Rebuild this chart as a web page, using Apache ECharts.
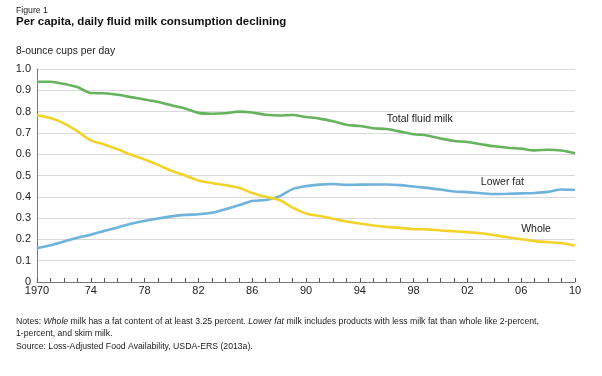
<!DOCTYPE html>
<html>
<head>
<meta charset="utf-8">
<script src="https://cdn.jsdelivr.net/npm/echarts@6/dist/echarts.min.js"></script>
<style>
  html, body { margin: 0; padding: 0; background: #fff; }
  #chart { width: 602px; height: 376px; }
</style>
</head>
<body>
<div id="chart"></div>
<script>
const years = [];
for (let y = 1970; y <= 2010; y++) years.push(String(y));

const totalFluid = [0.94, 0.94, 0.93, 0.915, 0.887, 0.886, 0.879, 0.868, 0.857, 0.845, 0.83,
  0.815, 0.794, 0.79, 0.792, 0.80, 0.796, 0.785, 0.782, 0.784, 0.775, 0.767, 0.755,
  0.738, 0.732, 0.722, 0.718, 0.706, 0.694, 0.688, 0.674, 0.662, 0.657, 0.647, 0.637,
  0.63, 0.626, 0.618, 0.621, 0.617, 0.604];

const lowerFat = [0.158, 0.172, 0.19, 0.208, 0.222, 0.24, 0.256, 0.274, 0.287, 0.298, 0.308,
  0.315, 0.318, 0.325, 0.342, 0.36, 0.38, 0.385, 0.402, 0.436, 0.45, 0.457, 0.46,
  0.456, 0.457, 0.458, 0.458, 0.455, 0.448, 0.442, 0.434, 0.425, 0.422, 0.417, 0.413,
  0.414, 0.416, 0.418, 0.423, 0.434, 0.432];

const whole = [0.783, 0.77, 0.745, 0.708, 0.665, 0.646, 0.623, 0.597, 0.575, 0.55, 0.522,
  0.5, 0.477, 0.465, 0.455, 0.442, 0.418, 0.4, 0.385, 0.35, 0.322, 0.31, 0.297,
  0.284, 0.275, 0.265, 0.259, 0.254, 0.248, 0.247, 0.242, 0.238, 0.234, 0.229, 0.22,
  0.21, 0.201, 0.192, 0.187, 0.182, 0.171];

const seriesNames = ["Total fluid milk", "Lower fat", "Whole"];
const seriesColors = ["#66b35e", "#6fb2dc", "#f3d22a"];
const labelAt = [["1996", 0.765], ["2003", 0.467], ["2006", 0.246]];

const FONT = "Liberation Sans, Arial, Helvetica, sans-serif";
const chart = echarts.init(document.getElementById("chart"), null, { renderer: "canvas" });

const makeSeries = (i, data) => ({
  name: seriesNames[i],
  type: "line",
  data: data,
  symbol: "none",
  smooth: 0.3,
  lineStyle: { color: seriesColors[i], width: 2.6 },
  markPoint: {
    symbol: "rect",
    symbolSize: 0,
    label: {
      show: true,
      position: "right",
      distance: 0,
      formatter: seriesNames[i],
      color: "#222",
      fontSize: 10.5,
      fontFamily: FONT,
    },
    data: [{ coord: labelAt[i] }],
  },
});

chart.setOption({
  animation: false,
  backgroundColor: "#fff",
  title: [
    { text: "Figure 1", left: 11, top: 1, textStyle: { fontSize: 8.7, fontWeight: "normal", color: "#222", fontFamily: FONT } },
    { text: "Per capita, daily fluid milk consumption declining", left: 11, top: 11, textStyle: { fontSize: 11.5, fontWeight: "bold", color: "#111", fontFamily: FONT } },
    { text: "8-ounce cups per day", left: 11, top: 41, textStyle: { fontSize: 10.3, fontWeight: "normal", color: "#222", fontFamily: FONT } },
    {
      text: "Notes: {i|Whole} milk has a fat content of at least 3.25 percent. {i|Lower fat} milk includes products with less milk fat than whole like 2-percent,\n1-percent, and skim milk.",
      left: 11, top: 311,
      textStyle: {
        fontSize: 8.7, fontWeight: "normal", color: "#222", fontFamily: FONT, lineHeight: 12,
        rich: { i: { fontStyle: "italic", fontSize: 8.7, fontFamily: FONT, color: "#222", lineHeight: 12 } },
      },
    },
    { text: "Source: Loss-Adjusted Food Availability, USDA-ERS (2013a).", left: 11, top: 337, textStyle: { fontSize: 8.7, fontWeight: "normal", color: "#222", fontFamily: FONT } },
  ],
  grid: { left: 37, right: 27, top: 69, bottom: 94 },
  xAxis: {
    type: "category",
    data: years,
    boundaryGap: false,
    axisLine: { lineStyle: { color: "#777", width: 1 } },
    axisTick: { inside: true, length: 4, interval: 0, lineStyle: { color: "#555" } },
    axisLabel: {
      interval: 3,
      color: "#222",
      fontSize: 11,
      fontFamily: FONT,
      margin: 3,
      formatter: (v) => (v === "1970" ? v : v.slice(2)),
    },
    splitLine: { show: false },
  },
  yAxis: {
    type: "value",
    min: 0,
    max: 1,
    interval: 0.1,
    axisLine: { show: true, lineStyle: { color: "#777", width: 1 } },
    axisTick: { show: false },
    axisLabel: {
      color: "#222",
      fontSize: 11,
      fontFamily: FONT,
      margin: 6,
      formatter: (v) => (v === 0 ? "0" : v.toFixed(1)),
    },
    splitLine: { lineStyle: { color: "#d9d9d9", width: 1 } },
  },
  series: [makeSeries(0, totalFluid), makeSeries(1, lowerFat), makeSeries(2, whole)],
});
</script>
</body>
</html>
